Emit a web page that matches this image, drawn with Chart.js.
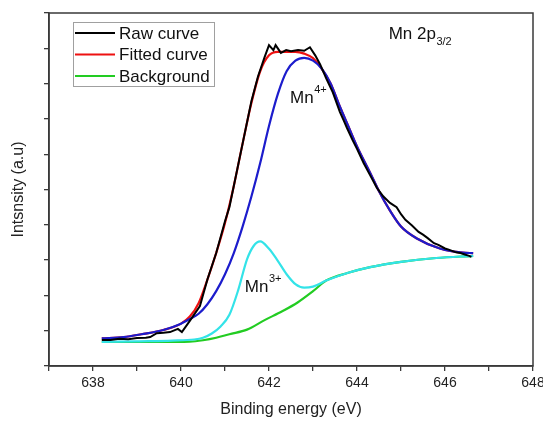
<!DOCTYPE html>
<html>
<head>
<meta charset="utf-8">
<script src="https://cdn.jsdelivr.net/npm/chart.js@4/dist/chart.umd.min.js"></script>
<style>
  html, body { margin: 0; padding: 0; background: #fff; }
  #wrap { width: 543px; height: 421px; }
</style>
</head>
<body>
<div id="wrap"><canvas id="chartXps"></canvas></div>
<script>
// raw spectrum
const rawEnergy = [638.2, 638.4, 638.6, 638.8, 639.0, 639.2, 639.3, 639.45, 639.6, 639.75, 639.93, 640.02, 640.2, 640.43,
  640.6, 640.8, 641.0, 641.1, 641.2, 641.4, 641.6, 641.75, 641.9, 642.0, 642.1, 642.15, 642.27, 642.39, 642.5, 642.66,
  642.8, 642.93, 643.05, 643.16, 643.3, 643.45, 643.61, 643.7, 643.77, 643.9, 644.0, 644.15, 644.3, 644.45, 644.6,
  644.75, 644.9, 645.0, 645.1, 645.25, 645.4, 645.5, 645.6, 645.75, 645.85, 646.0, 646.1, 646.25, 646.35, 646.45, 646.55, 646.6];
const rawCounts = [0.74, 0.74, 0.77, 0.76, 0.79, 0.80, 0.82, 0.93, 0.94, 0.96, 1.05, 0.96, 1.28, 1.7,
  2.45, 3.2, 4.1, 4.5, 5.1, 6.3, 7.5, 8.2, 8.75, 9.09, 8.95, 9.09, 8.87, 8.95, 8.92, 8.95,
  8.93, 9.03, 8.8, 8.55, 8.15, 7.75, 7.2, 6.95, 6.75, 6.4, 6.15, 5.75, 5.4, 5.05, 4.8,
  4.62, 4.5, 4.3, 4.14, 3.98, 3.8, 3.72, 3.63, 3.48, 3.43, 3.33, 3.29, 3.22, 3.20, 3.16, 3.12, 3.09];

// fitted envelope and Mn4+ component
const fitEnergy = [638.2, 638.7, 639.1, 639.6, 640.0, 640.2, 640.4, 640.6, 640.8, 641.0, 641.2, 641.4, 641.6, 641.8,
  642.0, 642.2, 642.4, 642.6, 642.8, 643.0, 643.2, 643.4, 643.6, 643.8, 644.0, 644.3, 644.5, 644.75, 645.0, 645.35,
  645.9, 646.4, 646.64];
const fittedCounts = [0.78, 0.82, 0.9, 1.02, 1.2, 1.4, 1.78, 2.45, 3.2, 4.05, 5.1, 6.3, 7.45, 8.35,
  8.8, 8.9, 8.9, 8.9, 8.85, 8.72, 8.42, 8.0, 7.38, 6.8, 6.22, 5.47, 4.95, 4.4, 3.95, 3.62,
  3.32, 3.21, 3.20];
const mn4Counts = [0.78, 0.82, 0.9, 1.02, 1.2, 1.33, 1.48, 1.75, 2.12, 2.6, 3.2, 3.95, 4.8, 5.75,
  6.8, 7.7, 8.35, 8.65, 8.73, 8.65, 8.42, 8.0, 7.38, 6.8, 6.22, 5.47, 4.95, 4.4, 3.95, 3.62,
  3.32, 3.21, 3.20];

// Mn3+ component
const mn3Energy = [638.2, 639.0, 639.8, 640.3, 640.5, 640.7, 640.9, 641.1, 641.3, 641.5, 641.65, 641.8, 642.0, 642.2,
  642.4, 642.6, 642.8, 643.0, 643.3, 643.8, 644.3, 645.0, 645.8, 646.64];
const mn3Counts = [0.68, 0.70, 0.72, 0.75, 0.8, 0.92, 1.12, 1.45, 2.15, 3.02, 3.4, 3.53, 3.32, 2.98,
  2.6, 2.32, 2.22, 2.25, 2.42, 2.64, 2.8, 2.95, 3.06, 3.12];

// background
const bgEnergy = [638.2, 639.5, 640.2, 640.5, 640.8, 641.1, 641.5, 641.9, 642.3, 642.65, 643.0, 643.3, 643.8, 644.3, 645.0, 645.8, 646.64];
const bgCounts = [0.68, 0.68, 0.69, 0.73, 0.8, 0.9, 1.03, 1.3, 1.55, 1.8, 2.12, 2.42, 2.64, 2.8, 2.95, 3.06, 3.12];

const xTicks = [638, 640, 642, 644, 646, 648];

const FONT = "'Liberation Sans', Arial, sans-serif";

function toPoints(xs, ys) {
  return xs.map((x, i) => ({ x: x, y: ys[i] }));
}

// legend drawn inside the plot, top-left
const boxLegend = {
  id: 'boxLegend',
  afterDatasetsDraw(chart) {
    const ctx = chart.ctx;
    const a = chart.chartArea;
    const items = chart.data.datasets.filter(d => d.inLegend);
    const x0 = a.left + 24, y0 = a.top + 9;
    ctx.save();
    ctx.fillStyle = '#fff';
    ctx.fillRect(x0, y0, 141, 64);
    ctx.strokeStyle = '#a0a0a0';
    ctx.lineWidth = 1;
    ctx.strokeRect(x0 + 0.5, y0 + 0.5, 141, 64);
    ctx.font = '17px ' + FONT;
    ctx.textBaseline = 'middle';
    items.forEach((d, i) => {
      const y = y0 + 11 + i * 21.5;
      ctx.strokeStyle = d.borderColor;
      ctx.lineWidth = 2.2;
      ctx.beginPath();
      ctx.moveTo(x0 + 2, y);
      ctx.lineTo(x0 + 42, y);
      ctx.stroke();
      ctx.fillStyle = '#111';
      ctx.fillText(d.label, x0 + 46, y + 1);
    });
    ctx.restore();
  }
};

// text labels placed in data coordinates
const notes = [
  { x: 644.72, y: 9.41, main: 'Mn 2p', extra: '3/2', sub: true },
  { x: 642.48, y: 7.59, main: 'Mn', extra: '4+', sub: false },
  { x: 641.45, y: 2.24, main: 'Mn', extra: '3+', sub: false }
];

const noteLabels = {
  id: 'noteLabels',
  afterDatasetsDraw(chart) {
    const ctx = chart.ctx;
    const sx = chart.scales.x, sy = chart.scales.y;
    ctx.save();
    ctx.fillStyle = '#111';
    ctx.textBaseline = 'middle';
    notes.forEach(n => {
      const px = sx.getPixelForValue(n.x), py = sy.getPixelForValue(n.y);
      ctx.font = '17px ' + FONT;
      ctx.fillText(n.main, px, py);
      const w = ctx.measureText(n.main).width;
      ctx.font = '11px ' + FONT;
      ctx.fillText(n.extra, px + w + 0.5, n.sub ? py + 8 : py - 8);
    });
    ctx.restore();
  }
};

const frame = {
  id: 'frame',
  afterDraw(chart) {
    const a = chart.chartArea;
    const ctx = chart.ctx;
    ctx.save();
    ctx.strokeStyle = '#3a3a3a';
    ctx.lineWidth = 1.5;
    ctx.strokeRect(a.left, a.top, a.right - a.left, a.bottom - a.top);
    ctx.restore();
  }
};

new Chart(document.getElementById('chartXps'), {
  type: 'line',
  data: {
    datasets: [
      { label: 'Raw curve', inLegend: true, data: toPoints(rawEnergy, rawCounts), borderColor: '#000000', borderWidth: 2, tension: 0, order: 0 },
      { label: 'Mn4+', data: toPoints(fitEnergy, mn4Counts), borderColor: '#1c1ccc', borderWidth: 2.2, cubicInterpolationMode: 'monotone', order: 1 },
      { label: 'Fitted curve', inLegend: true, data: toPoints(fitEnergy, fittedCounts), borderColor: '#ee1111', borderWidth: 2.2, cubicInterpolationMode: 'monotone', order: 2 },
      { label: 'Mn3+', data: toPoints(mn3Energy, mn3Counts), borderColor: '#33e3e8', borderWidth: 2.2, cubicInterpolationMode: 'monotone', order: 3 },
      { label: 'Background', inLegend: true, data: toPoints(bgEnergy, bgCounts), borderColor: '#22cc22', borderWidth: 2.2, cubicInterpolationMode: 'monotone', order: 4 }
    ]
  },
  options: {
    responsive: true,
    maintainAspectRatio: false,
    animation: false,
    layout: { padding: { top: 13, right: 10, left: 0, bottom: 0 } },
    elements: { point: { radius: 0 }, line: { fill: false } },
    plugins: { legend: { display: false }, tooltip: { enabled: false } },
    scales: {
      x: {
        type: 'linear',
        min: 637,
        max: 648,
        afterFit(scale) {
          scale.height = 55;
          scale.paddingRight = 0;
        },
        grid: { display: true, drawOnChartArea: false, drawTicks: true, tickLength: 5, color: '#3a3a3a', lineWidth: 1.3 },
        border: { display: true, color: '#3a3a3a', width: 1.5 },
        ticks: {
          stepSize: 1,
          padding: 4,
          maxRotation: 0,
          autoSkip: false,
          color: '#222',
          font: { family: FONT, size: 14 },
          callback: v => (xTicks.includes(v) ? String(v) : '')
        },
        title: { display: true, text: 'Binding energy (eV)', color: '#222', font: { family: FONT, size: 16 }, padding: { top: 0, bottom: 2 } }
      },
      y: {
        min: 0,
        max: 10,
        afterFit(scale) { scale.width = 49; },
        grid: { display: true, drawOnChartArea: false, drawTicks: true, tickLength: 5, color: '#3a3a3a', lineWidth: 1.3 },
        border: { display: true, color: '#3a3a3a', width: 1.5 },
        ticks: { stepSize: 1, callback: () => '' },
        title: { display: true, text: 'Intsnsity (a.u)', color: '#222', font: { family: FONT, size: 16 }, padding: { top: 9, bottom: 0 } }
      }
    }
  },
  plugins: [boxLegend, noteLabels, frame]
});
</script>
</body>
</html>
